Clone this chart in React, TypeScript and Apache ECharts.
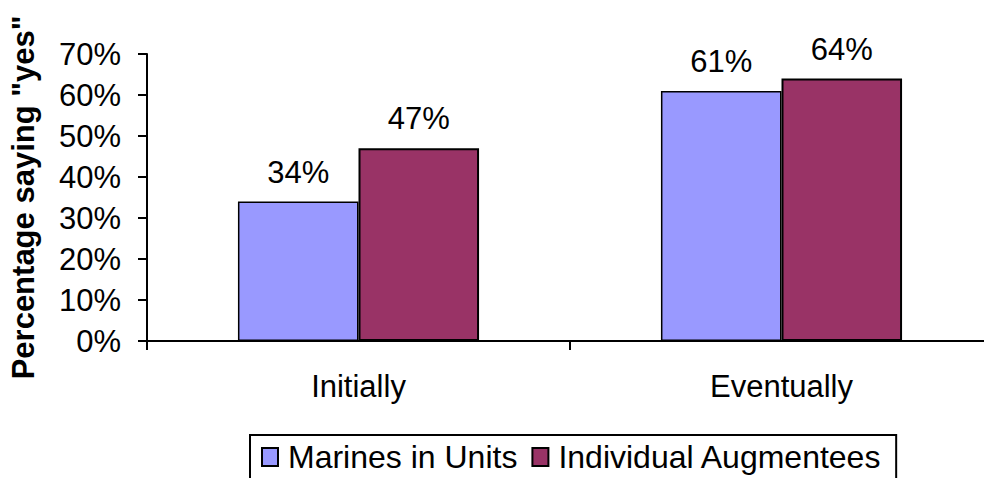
import React, { useEffect, useRef } from "react";
import * as echarts from "echarts";

const categories = ["Initially", "Eventually"];
const seriesNames = ["Marines in Units", "Individual Augmentees"];
const marinesInUnits = [34, 61];
const individualAugmentees = [47, 64];
const yTicks = { min: 0, max: 70, interval: 10 };

const FONT = "Liberation Sans, Arial, sans-serif";

export default function App() {
  const ref = useRef<HTMLDivElement>(null);
  useEffect(() => {
    if (!ref.current) return;
    const chart = echarts.init(ref.current, null, { renderer: "svg" });
    const labelStyle = {
      show: true,
      position: "top" as const,
      distance: 14,
      formatter: "{c}%",
      fontFamily: FONT,
      fontSize: 31,
      color: "#000",
    };
    chart.setOption({
      animation: false,
      backgroundColor: "#fff",
      grid: { left: 145, right: 7, top: 54, bottom: 137, containLabel: false },
      legend: {
        data: seriesNames,
        left: 250,
        top: 435,
        orient: "horizontal",
        borderColor: "#000",
        borderWidth: 2,
        padding: [6, 14, 8, 11],
        itemGap: 14,
        itemWidth: 16,
        itemHeight: 18,
        icon: "rect",
        textStyle: { fontFamily: FONT, fontSize: 32, color: "#000", padding: [0, 0, 0, 5] },
      },
      xAxis: {
        type: "category",
        data: categories,
        axisLine: { lineStyle: { color: "#000", width: 2 } },
        axisTick: { show: true, length: 9, lineStyle: { color: "#000", width: 2 } },
        axisLabel: { fontFamily: FONT, fontSize: 31, color: "#000", margin: 30 },
        splitLine: { show: false },
      },
      yAxis: {
        type: "value",
        min: yTicks.min,
        max: yTicks.max,
        interval: yTicks.interval,
        name: 'Percentage saying "yes"',
        nameLocation: "middle",
        nameRotate: 90,
        nameGap: 108,
        nameTextStyle: { fontFamily: FONT, fontSize: 31, fontWeight: "bold", color: "#000" },
        axisLine: { show: true, lineStyle: { color: "#000", width: 2 } },
        axisTick: { show: true, length: 9, lineStyle: { color: "#000", width: 2 } },
        axisLabel: {
          formatter: "{value}%",
          fontFamily: FONT,
          fontSize: 31,
          color: "#000",
          margin: 26,
        },
        splitLine: { show: false },
      },
      series: [
        {
          name: seriesNames[0],
          type: "bar",
          data: marinesInUnits,
          barGap: "0%",
          barCategoryGap: "43%",
          itemStyle: { color: "#9999FF", borderColor: "#000", borderWidth: 1.5 },
          label: labelStyle,
        },
        {
          name: seriesNames[1],
          type: "bar",
          data: individualAugmentees,
          barGap: "0%",
          barCategoryGap: "43%",
          itemStyle: { color: "#993366", borderColor: "#000", borderWidth: 2 },
          label: labelStyle,
        },
      ],
    });
    return () => chart.dispose();
  }, []);
  return (
    <div
      style={{
        position: "absolute",
        left: 0,
        top: 0,
        width: 984,
        height: 478,
        overflow: "hidden",
      }}
    >
      <div ref={ref} style={{ width: 1000, height: 478 }} />
    </div>
  );
}
